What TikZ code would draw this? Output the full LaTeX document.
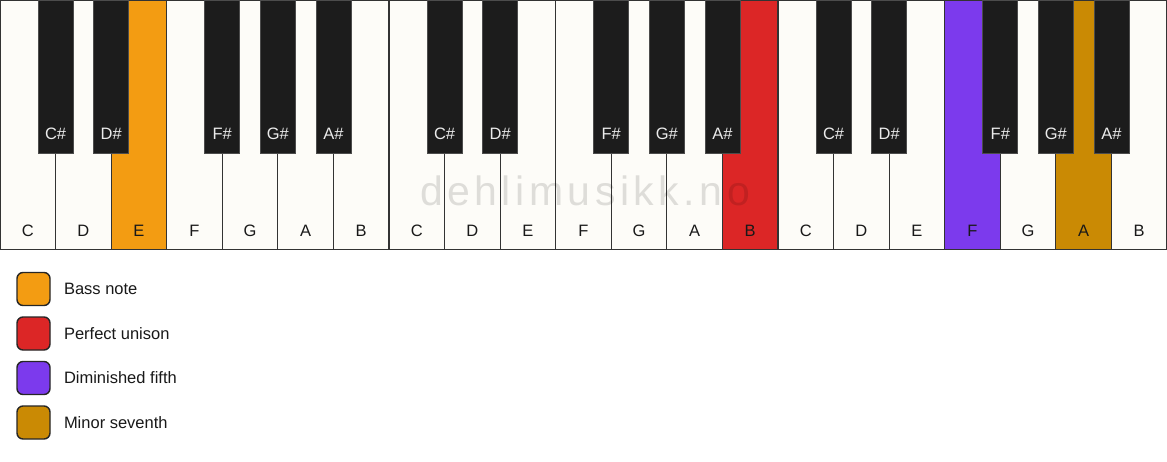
\documentclass[tikz,border=0pt]{standalone}
\usepackage{fontspec}
\setmainfont{Liberation Sans}
\usetikzlibrary{positioning}
\definecolor{keywhite}{HTML}{FDFCF8}
\definecolor{keyblack}{HTML}{1C1C1C}
\definecolor{edge}{HTML}{333333}
\definecolor{bass}{HTML}{F39C12}
\definecolor{unison}{HTML}{DC2626}
\definecolor{dimfifth}{HTML}{7C3AED}
\definecolor{minseventh}{HTML}{CA8A04}
\tikzset{
    every node/.style={inner sep=0pt, outer sep=0pt, font=\fontsize{16.5}{18}\selectfont},
    wkey/.style={rectangle, draw=edge, line width=1.2pt, fill=keywhite, anchor=north west,
        minimum width=55.571pt, text height=236pt, text depth=13.5pt, text=black!90},
    bkey/.style={rectangle, draw=black!70, line width=0.8pt, fill=keyblack, anchor=north,
        minimum width=35pt, text height=139pt, text depth=14pt, text=white!92!black},
    swatch/.style={rectangle, draw=black!85, line width=1.4pt, rounded corners=6pt, minimum size=33pt},
    legtext/.style={anchor=west, text=black!90}
}

\begin{document}
\begin{tikzpicture}[x=1pt, y=-1pt]
    \useasboundingbox[fill=white] (0,0) rectangle (1167,461);

    % white keys
    \node (c1) [wkey] at (0,0) {C};
    \node (d1) [wkey] at (55.571,0) {D};
    \node (e1) [wkey, fill=bass] at (111.143,0) {E};
    \node (f1) [wkey] at (166.714,0) {F};
    \node (g1) [wkey] at (222.286,0) {G};
    \node (a1) [wkey] at (277.857,0) {A};
    \node (b1) [wkey] at (333.429,0) {B};
    \node (c2) [wkey] at (389.000,0) {C};
    \node (d2) [wkey] at (444.571,0) {D};
    \node (e2) [wkey] at (500.143,0) {E};
    \node (f2) [wkey] at (555.714,0) {F};
    \node (g2) [wkey] at (611.286,0) {G};
    \node (a2) [wkey] at (666.857,0) {A};
    \node (b2) [wkey, fill=unison] at (722.429,0) {B};
    \node (c3) [wkey] at (778.000,0) {C};
    \node (d3) [wkey] at (833.571,0) {D};
    \node (e3) [wkey] at (889.143,0) {E};
    \node (f3) [wkey, fill=dimfifth] at (944.714,0) {F};
    \node (g3) [wkey] at (1000.286,0) {G};
    \node (a3) [wkey, fill=minseventh] at (1055.857,0) {A};
    \node (b3) [wkey] at (1111.429,0) {B};

    % black keys
    \node (cs1) [bkey] at (c1.north east) {C\#};
    \node (ds1) [bkey] at (d1.north east) {D\#};
    \node (fs1) [bkey] at (f1.north east) {F\#};
    \node (gs1) [bkey] at (g1.north east) {G\#};
    \node (as1) [bkey] at (a1.north east) {A\#};
    \node (cs2) [bkey] at (c2.north east) {C\#};
    \node (ds2) [bkey] at (d2.north east) {D\#};
    \node (fs2) [bkey] at (f2.north east) {F\#};
    \node (gs2) [bkey] at (g2.north east) {G\#};
    \node (as2) [bkey] at (a2.north east) {A\#};
    \node (cs3) [bkey] at (c3.north east) {C\#};
    \node (ds3) [bkey] at (d3.north east) {D\#};
    \node (fs3) [bkey] at (f3.north east) {F\#};
    \node (gs3) [bkey] at (g3.north east) {G\#};
    \node (as3) [bkey] at (a3.north east) {A\#};

    \node (wm) [anchor=base, text=black, text opacity=0.12,
        font=\fontsize{41}{44}\selectfont\addfontfeature{LetterSpace=11}] at (585,205) {dehlimusikk.no};

    % legend
    \node (s1) [swatch, fill=bass] at (33.5,289) {};
    \node (s2) [swatch, fill=unison] at (33.5,333.5) {};
    \node (s3) [swatch, fill=dimfifth] at (33.5,378) {};
    \node (s4) [swatch, fill=minseventh] at (33.5,422.5) {};
    \node (t1) [legtext, right=14pt of s1] {Bass note};
    \node (t2) [legtext, right=14pt of s2] {Perfect unison};
    \node (t3) [legtext, right=14pt of s3] {Diminished fifth};
    \node (t4) [legtext, right=14pt of s4] {Minor seventh};
\end{tikzpicture}
\end{document}
